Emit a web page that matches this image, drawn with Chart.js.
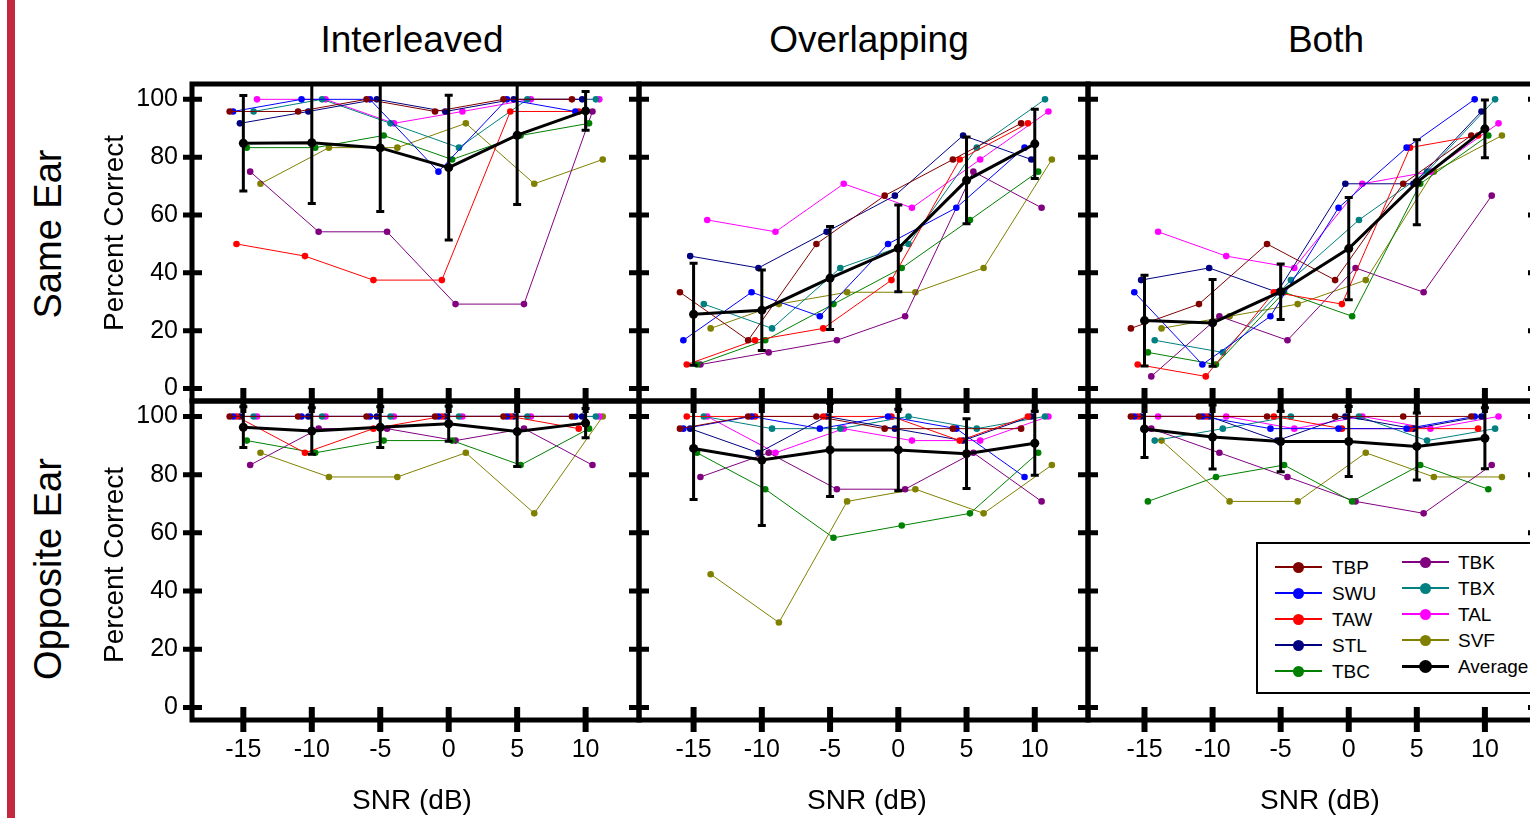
<!DOCTYPE html>
<html lang="en">
<head>
<meta charset="UTF-8">
<title>Percent Correct vs SNR</title>
<script src="https://cdn.jsdelivr.net/npm/chart.js"></script>
<style>
  html, body { margin: 0; padding: 0; background: #fff; }
  body { position: relative; width: 1530px; height: 818px; overflow: hidden; font-family: "Liberation Sans", Arial, sans-serif; color: #000; }
  canvas { position: absolute; }
  .txt { position: absolute; white-space: nowrap; line-height: 1; transform: translate(-50%, -50%); }
  .rot { transform: translate(-50%, -50%) rotate(-90deg); }
  #bar { position: absolute; left: 7px; top: 0; width: 8px; height: 818px; background: #c4283f; }
  #legend { position: absolute; left: 1256px; top: 542px; width: 300px; height: 148px; border: 2px solid #000; background: #fff; }
  .lg-line { position: absolute; height: 2px; }
  .lg-dot { position: absolute; border-radius: 50%; }
  .lg-txt { position: absolute; font-size: 19px; line-height: 1; transform: translateY(-50%); }
</style>
</head>
<body>
<div id="bar"></div>

<script>
// x categories and tick labels
const snr = [-15, -10, -5, 0, 5, 10];
const yTicks = [0, 20, 40, 60, 80, 100];
const conditions = ['Interleaved', 'Overlapping', 'Both'];
const ears = ['Same Ear', 'Opposite Ear'];

const subjects = ['TBP', 'SWU', 'TAW', 'STL', 'TBC', 'TBK', 'TBX', 'TAL', 'SVF'];
const subjectColors = ['#800000', '#0000ff', '#ff0000', '#000080', '#008000', '#800080', '#008080', '#ff00ff', '#808000'];
// horizontal jitter of each subject around the SNR value (dB)
const jitter = [-1, -0.75, -0.5, -0.25, 0.25, 0.5, 0.75, 1, 1.25];

// Same ear (rows = subjects in the order above)
const sameInterleaved = [
  [95.8, 95.8, 100, 95.8, 100, 100],
  [95.8, 100, 100, 75, 100, 95.8],
  [50, 45.8, 37.5, 37.5, 95.8, 95.8],
  [91.7, 95.8, 100, 95.8, 100, 100],
  [83.3, 83.3, 87.5, 79.2, 87.5, 91.7],
  [75, 54.2, 54.2, 29.2, 29.2, 95.8],
  [95.8, 100, 91.7, 83.3, 100, 100],
  [100, 100, 91.7, 95.8, 100, 100],
  [70.8, 83.3, 83.3, 91.7, 70.8, 79.2]
];
const sameInterleavedAvg = [84.8, 85, 83.2, 76.4, 87.6, 96];
const sameInterleavedErr = [16.5, 21, 22, 25, 24, 6.7];

const sameOverlapping = [
  [33.3, 16.7, 50, 66.7, 79.2, 91.7],
  [16.7, 33.3, 25, 50, 62.5, 83.3],
  [8.3, 16.7, 20.8, 37.5, 79.2, 91.7],
  [45.8, 41.7, 54.2, 66.7, 87.5, 79.2],
  [8.3, 16.7, 29.2, 41.7, 58.3, 75],
  [8.3, 12.5, 16.7, 25, 75, 62.5],
  [29.2, 20.8, 41.7, 50, 83.3, 100],
  [58.3, 54.2, 70.8, 62.5, 79.2, 95.8],
  [20.8, 29.2, 33.3, 33.3, 41.7, 79.2]
];
const sameOverlappingAvg = [25.7, 27.1, 38.2, 48.5, 72, 84.6];
const sameOverlappingErr = [17.6, 13.9, 17.8, 15, 15, 12];

const sameBoth = [
  [20.8, 29.2, 50, 37.5, 70.8, 87.5],
  [33.3, 8.3, 25, 62.5, 83.3, 100],
  [8.3, 4.2, 33.3, 29.2, 83.3, 87.5],
  [37.5, 41.7, 33.3, 70.8, 70.8, 95.8],
  [12.5, 8.3, 33.3, 25, 70.8, 87.5],
  [4.2, 25, 16.7, 41.7, 33.3, 66.7],
  [16.7, 12.5, 37.5, 58.3, 75, 100],
  [54.2, 45.8, 41.7, 70.8, 75, 91.7],
  [20.8, 25, 29.2, 37.5, 75, 87.5]
];
const sameBothAvg = [23.5, 22.7, 33.5, 48.4, 71.3, 89.8];
const sameBothErr = [15.7, 15, 9.6, 17.7, 14.7, 10];

// Opposite ear
const oppInterleaved = [
  [100, 100, 100, 100, 100, 100],
  [100, 100, 100, 100, 100, 100],
  [100, 87.5, 95.8, 100, 100, 95.8],
  [100, 100, 100, 100, 100, 100],
  [91.7, 87.5, 91.7, 91.7, 83.3, 95.8],
  [83.3, 95.8, 95.8, 91.7, 95.8, 83.3],
  [100, 100, 100, 100, 100, 100],
  [100, 100, 100, 100, 100, 100],
  [87.5, 79.2, 79.2, 87.5, 66.7, 100]
];
const oppInterleavedAvg = [96.3, 95, 96.3, 97.5, 94.8, 97.7];
const oppInterleavedErr = [7, 8, 7, 6, 12, 5];

const oppOverlapping = [
  [95.8, 100, 100, 95.8, 95.8, 95.8],
  [95.8, 100, 95.8, 100, 95.8, 79.2],
  [100, 100, 100, 100, 91.7, 100],
  [95.8, 87.5, 100, 95.8, 91.7, 100],
  [87.5, 75, 58.3, 62.5, 66.7, 87.5],
  [79.2, 87.5, 75, 75, 87.5, 70.8],
  [100, 95.8, 95.8, 100, 95.8, 100],
  [100, 87.5, 95.8, 91.7, 91.7, 100],
  [45.8, 29.2, 70.8, 75, 66.7, 83.3]
];
const oppOverlappingAvg = [89, 85, 88.5, 88.5, 87.2, 90.8];
const oppOverlappingErr = [17.5, 22.5, 16, 14, 12, 11];

const oppBoth = [
  [100, 100, 100, 100, 100, 100],
  [100, 100, 95.8, 95.8, 95.8, 100],
  [100, 100, 100, 95.8, 95.8, 95.8],
  [100, 100, 91.7, 100, 95.8, 100],
  [70.8, 79.2, 83.3, 70.8, 83.3, 75],
  [95.8, 87.5, 79.2, 70.8, 66.7, 83.3],
  [91.7, 95.8, 100, 100, 91.7, 95.8],
  [100, 100, 95.8, 100, 95.8, 100],
  [91.7, 70.8, 70.8, 87.5, 79.2, 79.2]
];
const oppBothAvg = [95.7, 92.9, 91.4, 91.4, 89.7, 92.5];
const oppBothErr = [9.8, 11, 10.4, 12, 11.5, 10.5];

// ---- layout ----
const colEdges = [192, 639, 1088, 1538];
const rowEdges = [84, 401, 720];
const xMins = [-18.75, -19.0, -19.15];
const xMax = 13.9;
const yMin = -4.3, yMax = 105.3;
const PAD = 16, Y_AXIS_W = 72, X_AXIS_H = 50;

Chart.defaults.font.family = "'Liberation Sans', Arial, sans-serif";
Chart.defaults.color = '#000';

const errorBars = {
  id: 'errorBars',
  afterDatasetsDraw(chart) {
    const ds = chart.data.datasets[0];
    const { ctx, chartArea: a, scales: { x, y } } = chart;
    ctx.save();
    ctx.beginPath();
    ctx.rect(a.left, a.top, a.width, a.height);
    ctx.clip();
    ctx.strokeStyle = '#000';
    ctx.lineWidth = 3;
    ds.data.forEach((p, i) => {
      const e = ds.errors[i];
      const px = x.getPixelForValue(p.x);
      const top = y.getPixelForValue(p.y + e);
      const bot = y.getPixelForValue(p.y - e);
      ctx.beginPath();
      ctx.moveTo(px, top); ctx.lineTo(px, bot);
      ctx.moveTo(px - 4, top); ctx.lineTo(px + 4, top);
      ctx.moveTo(px - 4, bot); ctx.lineTo(px + 4, bot);
      ctx.stroke();
    });
    ctx.restore();
  }
};

const frame = {
  id: 'frame',
  afterDraw(chart, args, opts) {
    const { ctx, chartArea: a, scales: { x, y } } = chart;
    ctx.save();
    ctx.strokeStyle = '#000';
    ctx.lineWidth = 5;
    ctx.lineJoin = 'miter';
    ctx.strokeRect(a.left, a.top, a.width, a.height);
    yTicks.forEach(v => {
      const py = y.getPixelForValue(v);
      ctx.beginPath();
      ctx.moveTo(a.left - (opts.outLeft ? 9 : 0), py);
      ctx.lineTo(a.left + 10, py);
      ctx.moveTo(a.right - 10, py);
      ctx.lineTo(a.right, py);
      ctx.stroke();
    });
    ctx.lineWidth = 6;
    snr.forEach(v => {
      const px = x.getPixelForValue(v);
      ctx.beginPath();
      ctx.moveTo(px, a.bottom + (opts.outBottom ? 12 : 0));
      ctx.lineTo(px, a.bottom - 13);
      if (opts.topTicks) {
        ctx.moveTo(px, a.top);
        ctx.lineTo(px, a.top + 12);
      }
      ctx.stroke();
    });
    ctx.restore();
  }
};

function makePanel(row, col, values, avg, err) {
  const axisW = col === 0 ? Y_AXIS_W : 0;
  const axisH = row === 1 ? X_AXIS_H : 0;
  const left = colEdges[col] - PAD - axisW;
  const top = rowEdges[row] - PAD;
  const w = colEdges[col + 1] - colEdges[col] + 2 * PAD + axisW;
  const h = rowEdges[row + 1] - rowEdges[row] + 2 * PAD + axisH;
  const canvas = document.createElement('canvas');
  canvas.width = w; canvas.height = h;
  canvas.style.left = left + 'px';
  canvas.style.top = top + 'px';
  document.body.appendChild(canvas);

  const datasets = [{
    label: 'Average',
    data: snr.map((v, i) => ({ x: v, y: avg[i] })),
    errors: err,
    borderColor: '#000', backgroundColor: '#000',
    borderWidth: 3, pointRadius: 4.5, pointBorderWidth: 0
  }];
  subjects.forEach((name, s) => {
    datasets.push({
      label: name,
      data: snr.map((v, i) => ({ x: v + jitter[s], y: values[s][i] })),
      borderColor: subjectColors[s], backgroundColor: subjectColors[s],
      borderWidth: 1, pointRadius: 3.3, pointBorderWidth: 0
    });
  });

  new Chart(canvas, {
    type: 'line',
    data: { datasets },
    options: {
      responsive: false,
      animation: false,
      events: [],
      layout: { padding: PAD, autoPadding: false },
      plugins: {
        legend: { display: false },
        tooltip: { enabled: false },
        frame: { outLeft: col === 0, outBottom: row === 1, topTicks: row === 1 }
      },
      scales: {
        x: {
          type: 'linear', min: xMins[col], max: xMax,
          display: row === 1,
          afterBuildTicks: s => { s.ticks = snr.map(v => ({ value: v })); },
          afterFit: s => { s.height = axisH; s.paddingLeft = 0; s.paddingRight = 0; },
          grid: { display: false, drawTicks: false },
          border: { display: false },
          ticks: { font: { size: 25 }, color: '#000', padding: 15, autoSkip: false, maxRotation: 0 }
        },
        y: {
          type: 'linear', min: yMin, max: yMax,
          display: col === 0,
          afterBuildTicks: s => { s.ticks = yTicks.map(v => ({ value: v })); },
          afterFit: s => { s.width = axisW; s.paddingTop = 0; s.paddingBottom = 0; },
          grid: { display: false, drawTicks: false },
          border: { display: false },
          ticks: { font: { size: 25 }, color: '#000', padding: 14 }
        }
      }
    },
    plugins: [errorBars, frame]
  });
}

makePanel(0, 0, sameInterleaved, sameInterleavedAvg, sameInterleavedErr);
makePanel(0, 1, sameOverlapping, sameOverlappingAvg, sameOverlappingErr);
makePanel(0, 2, sameBoth, sameBothAvg, sameBothErr);
makePanel(1, 0, oppInterleaved, oppInterleavedAvg, oppInterleavedErr);
makePanel(1, 1, oppOverlapping, oppOverlappingAvg, oppOverlappingErr);
makePanel(1, 2, oppBoth, oppBothAvg, oppBothErr);

// ---- text labels ----
function addText(str, x, y, size, rotate) {
  const d = document.createElement('div');
  d.className = 'txt' + (rotate ? ' rot' : '');
  d.style.left = x + 'px';
  d.style.top = y + 'px';
  d.style.fontSize = size + 'px';
  d.textContent = str;
  document.body.appendChild(d);
}
const titleX = [412, 869, 1326];
const snrX = [412, 867, 1320];
conditions.forEach((c, i) => addText(c, titleX[i], 39, 37));
conditions.forEach((c, i) => addText('SNR (dB)', snrX[i], 800, 28));
addText(ears[0], 48, 234, 38, true);
addText(ears[1], 48, 569, 38, true);
addText('Percent Correct', 114, 233, 28, true);
addText('Percent Correct', 114, 565, 28, true);

// ---- legend ----
const legend = document.createElement('div');
legend.id = 'legend';
document.body.appendChild(legend);
const legendNames = subjects.concat(['Average']);
const legendColors = subjectColors.concat(['#000']);
legendNames.forEach((name, i) => {
  const col = Math.floor(i / 5), r = i % 5;
  const isAvg = name === 'Average';
  const lineL = col === 0 ? 17 : 144;
  const cy = (col === 0 ? 23 : 18) + r * 26;
  const line = document.createElement('div');
  line.className = 'lg-line';
  line.style.left = lineL + 'px';
  line.style.width = '47px';
  line.style.height = (isAvg ? 3 : 2) + 'px';
  line.style.top = (cy - (isAvg ? 1.5 : 1)) + 'px';
  line.style.background = legendColors[i];
  legend.appendChild(line);
  const dot = document.createElement('div');
  const ds = isAvg ? 13 : 11;
  dot.className = 'lg-dot';
  dot.style.width = ds + 'px';
  dot.style.height = ds + 'px';
  dot.style.left = (lineL + 23.5 - ds / 2) + 'px';
  dot.style.top = (cy - ds / 2) + 'px';
  dot.style.background = legendColors[i];
  legend.appendChild(dot);
  const t = document.createElement('div');
  t.className = 'lg-txt';
  t.style.left = (col === 0 ? 74 : 200) + 'px';
  t.style.top = cy + 'px';
  t.textContent = name;
  legend.appendChild(t);
});
</script>
</body>
</html>
